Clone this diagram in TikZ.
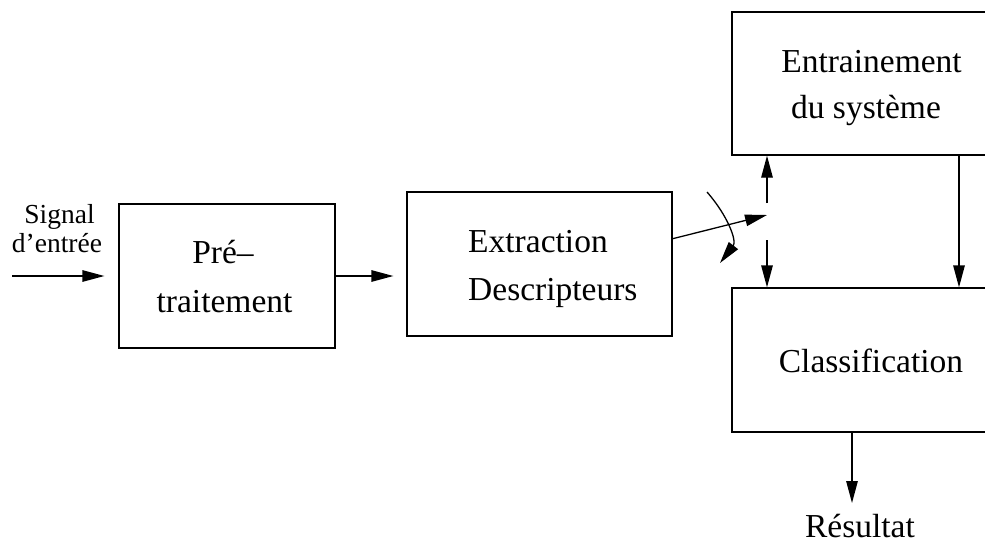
\documentclass[tikz,border=0pt]{standalone}
\usepackage{fontspec}
\setmainfont{Liberation Serif}
\usetikzlibrary{arrows.meta,calc}
\begin{document}
\begin{tikzpicture}[x=1pt,y=-1pt,
  box/.style={draw=black,line width=1.3pt,rectangle,inner sep=0pt},
  txt/.style={inner sep=0pt,anchor=base,font=\fontsize{33.5}{40}\selectfont},
  small/.style={inner sep=0pt,anchor=base,font=\fontsize{27.5}{33}\selectfont},
  arr/.style={line width=1.3pt,-{Triangle[length=22pt,width=11.5pt]}},
  ln/.style={line width=1.3pt}]
\useasboundingbox (0,0) rectangle (985,543);
\clip (0,0) rectangle (985,543);

% processing blocks
\node[box,minimum width=216pt,minimum height=144pt] (pre) at (227,276) {};
\node[box,minimum width=265pt,minimum height=144pt] (ext) at (539.5,264) {};
\node[box,minimum width=278pt,minimum height=143pt] (train) at (871,83.5) {};
\node[box,minimum width=278pt,minimum height=144pt] (cls) at (871,360) {};

% block labels
\node[txt] (pre1) at (223,263) {Pré–};
\node[txt] (pre2) at (224.5,312) {traitement};
\node[txt,anchor=base west] (ext1) at (468,252) {Extraction};
\node[txt,anchor=base west] (ext2) at (468,300) {Descripteurs};
\node[txt] (train1) at (871.5,73) {Entrainement};
\node[txt] (train2) at (866,118) {du système};
\node[txt] (cls1) at (871,372) {Classification};
\node[txt] (res) at (860,537) {Résultat};
\node[small] (sig1) at (59.5,223) {Signal};
\node[small] (sig2) at (57,252) {d’entrée};

% input signal and forward path
\coordinate (in) at (12,276);
\draw[arr] (in) -- ($(pre.west)+(-14,0)$);
\draw[arr] (pre.east) -- ($(ext.west |- pre.east)+(-13,0)$);

% switch between training and classification
\coordinate (piv) at ($(ext.north east)!0.326!(ext.south east)$);
\coordinate (sw) at (767,215);
\coordinate (swU) at (767,203);
\coordinate (swD) at (767,240);
\draw[arr] (piv) -- (sw);
\draw[arr] (707,192) .. controls (728,216) and (737,241) .. (720,263);
\draw[arr] (swU) -- (swU |- train.south);
\draw[arr] (swD) -- (swD |- cls.north);

% trained model to classifier, and output
\draw[arr] (train.south -| 959,0) -- (cls.north -| 959,0);
\coordinate (out) at (852,503);
\draw[arr] (cls.south -| out) -- (out);
\end{tikzpicture}
\end{document}
